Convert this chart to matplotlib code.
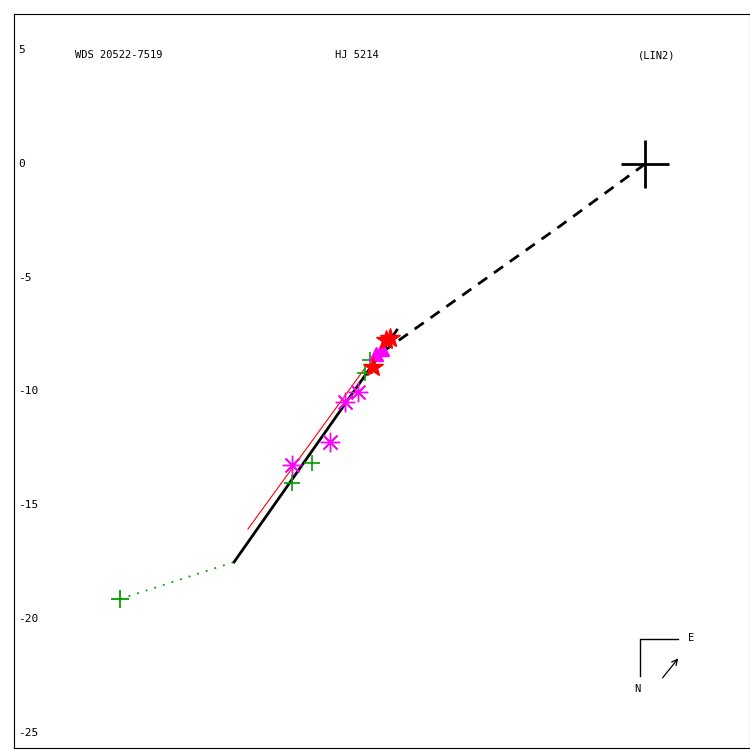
import matplotlib
matplotlib.use("Agg")
import matplotlib.pyplot as plt

# data coordinates (arcsec-like units)
orbit_x = [-18.07, -10.91]
orbit_y = [-17.50, -7.30]
fit_x = [-17.46, -12.31]
fit_y = [-16.05, -8.97]
dash_x = [0.0, -3.74, -11.43]
dash_y = [0.0, -2.73, -8.18]
first_obs_x = [-23.09, -18.07]
first_obs_y = [-19.13, -17.50]

plus_x = [-14.64, -15.52, -12.31, -12.09]
plus_y = [-13.15, -14.03, -9.19, -8.62]
ast_x = [-15.52, -13.85, -13.19, -12.62]
ast_y = [-13.24, -12.23, -10.47, -10.03]
tri_x = [-11.85, -11.55]
tri_y = [-8.35, -8.15]
star_x = [-11.21, -11.38, -11.96]
star_y = [-7.65, -7.75, -8.93]

yticks = [5, 0, -5, -10, -15, -20, -25]
font = dict(family="DejaVu Sans Mono", fontsize=7.5)

fig = plt.figure(figsize=(7.5, 7.5), dpi=100)
ax = fig.add_axes([14 / 750, 2 / 750, 736 / 750, 734 / 750])
ax.set_xlim(-27.75, 4.62)
ax.set_ylim(-25.68, 6.6)
ax.set_xticks([])
ax.set_yticks([])

green = "#00a000"

# origin
ax.plot([0], [0], marker="+", ms=34, mew=2, color="black")
ax.plot(dash_x, dash_y, color="black", lw=2, ls=(0, (4, 3)))
ax.plot(orbit_x, orbit_y, color="black", lw=2)
ax.plot(fit_x, fit_y, color="red", lw=0.8)
ax.plot(first_obs_x, first_obs_y, color=green, lw=1.3, ls=(0, (1, 4)))
ax.plot([first_obs_x[0]], [first_obs_y[0]], marker="+", ms=13, mew=1.3, color=green)

ax.plot(plus_x, plus_y, ls="none", marker="+", ms=12, mew=1.2, color=green)
ax.plot(ast_x, ast_y, ls="none", marker=(8, 2, 0), ms=14, mew=1, color="magenta")
ax.plot(tri_x, tri_y, ls="none", marker="^", ms=10, color="magenta")
ax.plot(star_x, star_y, ls="none", marker="*", ms=15, color="red", mec="red")

# y labels drawn inside the frame
for v in yticks:
    ax.text(-27.57, v, str(v), ha="left", va="center", fontsize=8, family="DejaVu Sans Mono")

ax.text(-25.07, 4.79, "WDS 20522-7519", ha="left", va="center", **font)
ax.text(-13.63, 4.79, "HJ 5214", ha="left", va="center", **font)
ax.text(-0.31, 4.79, "(LIN2)", ha="left", va="center", **font)

# compass
ax.plot([-0.22, -0.22, 1.45], [-22.52, -20.89, -20.89], color="black", lw=1)
ax.text(1.89, -20.84, "E", ha="left", va="center", **font)
ax.text(-0.35, -23.09, "N", ha="center", va="center", **font)
ax.annotate("", xy=(1.54, -21.64), xytext=(0.70, -22.69),
            arrowprops=dict(arrowstyle="->", lw=0.9, color="black"))

fig.savefig("out.png", dpi=100)
